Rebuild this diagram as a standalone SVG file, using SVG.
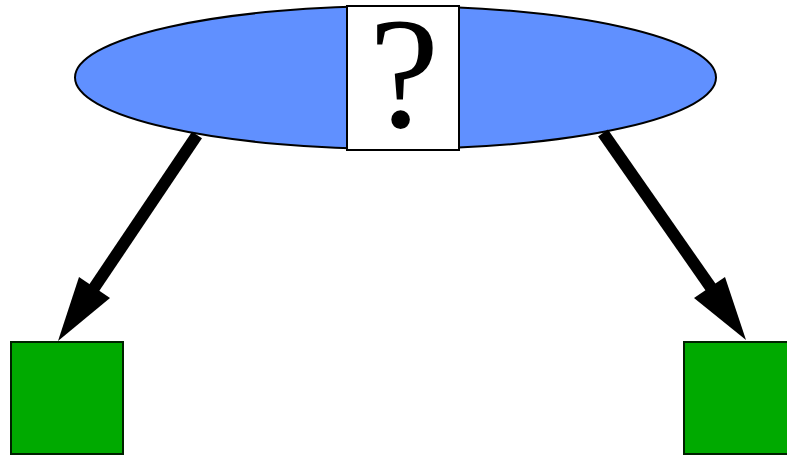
<svg xmlns="http://www.w3.org/2000/svg" width="787" height="456" viewBox="0 0 787 456">
<style>
.shape{stroke:#000;stroke-width:2}
.sq{fill:#00aa00;stroke:#002200;stroke-width:2}
.shaft{stroke:#000;stroke-width:12;fill:none}
.head{fill:#000}
.q{font-family:"Liberation Serif","Times New Roman",serif;font-size:158px;fill:#000}
</style>
<rect width="787" height="456" fill="#fff"/>
<g id="top">
<ellipse class="shape" cx="395.5" cy="77.5" rx="320.5" ry="71.5" fill="#6090ff"/>
<rect class="shape" x="347" y="6" width="112" height="144" fill="#fff"/>
<text class="q" x="404" y="127" text-anchor="middle">?</text>
</g>
<g id="left">
<rect class="sq" x="11" y="342" width="112" height="112"/>
</g>
<g id="right">
<rect class="sq" x="684" y="342" width="112" height="112"/>
</g>
<g id="connectors">
<line class="shaft" x1="197" y1="135" x2="90" y2="294"/>
<polygon class="head" points="58,341 79,277 110,298"/>
<line class="shaft" x1="603" y1="133" x2="714" y2="292"/>
<polygon class="head" points="746,340 694,298 725,277"/>
</g>
</svg>
